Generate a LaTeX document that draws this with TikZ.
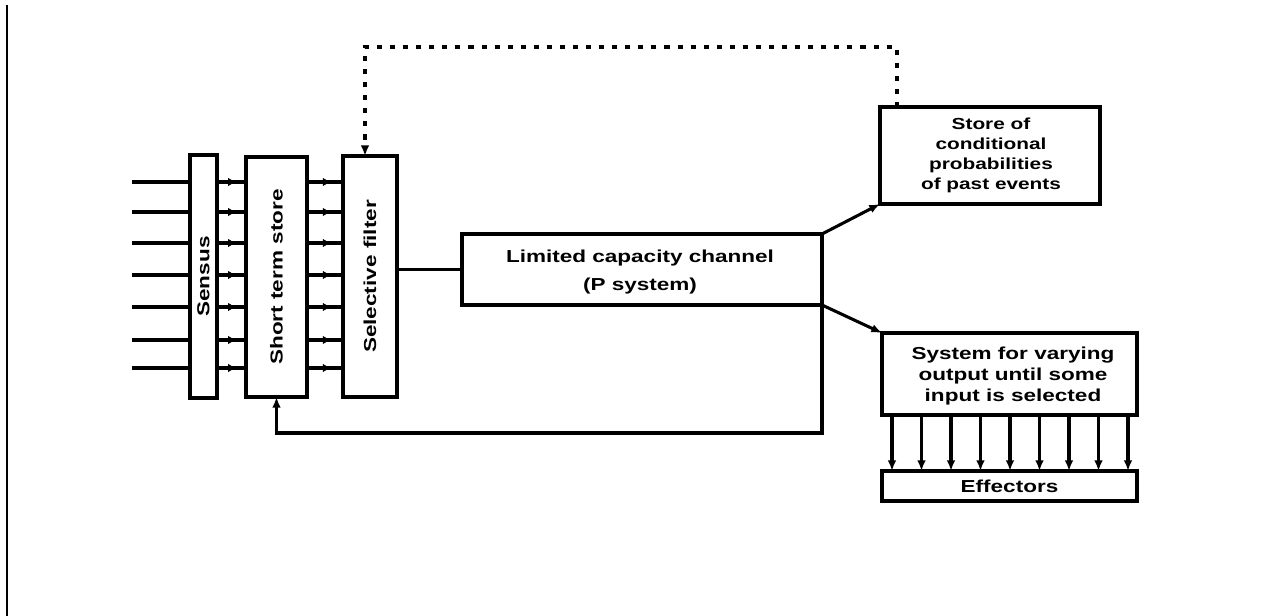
\documentclass[tikz,border=0pt]{standalone}
\usepackage{fontspec}
\setmainfont{Liberation Sans}[FakeStretch=1.3]
\usetikzlibrary{arrows.meta,calc,decorations.markings}
\begin{document}
\begin{tikzpicture}[x=0.75pt,y=-0.75pt,
  box/.style={draw,line width=2.6pt,inner sep=0pt,outer sep=0pt,rectangle},
  txt/.style={font=\bfseries\fontsize{13}{15}\selectfont,align=center,inner sep=0pt},
  conn/.style={line width=2.3pt},
  tip/.style={-{Latex[length=8pt,width=6.5pt]}},
  dotline/.style={line width=2.8pt,dash pattern=on 3.8pt off 6pt},
  midarrow/.style={postaction={decorate},decoration={markings,mark=at position 0.68 with {\arrow{Latex[length=6.5pt,width=6.5pt]}}}}]
\useasboundingbox (0,0) rectangle (1268,616);
% left border
\coordinate (bt) at (7,5);
\coordinate (bb) at (7,616);
\draw[line width=1.9pt] (bt) -- (bb);
% boxes
\node[box,minimum width=27*0.75pt,minimum height=243*0.75pt] (sens) at (203.5,276.5) {};
\node[txt,rotate=90] (senst) at (sens.center) {Sensus};
\node[box,minimum width=61*0.75pt,minimum height=240*0.75pt] (sts) at (276.5,277) {};
\node[txt,rotate=90] (stst) at (sts.center) {Short term store};
\node[box,minimum width=54*0.75pt,minimum height=241*0.75pt] (sf) at (370,276.5) {};
\node[txt,rotate=90] (sft) at (sf.center) {Selective filter};
\node[box,minimum width=360*0.75pt,minimum height=71*0.75pt] (lcc) at (642,269.5) {};
\node[txt,font=\bfseries\fontsize{13}{21.5}\selectfont] (lcct) at (640,272) {Limited capacity channel\\(P system)};
\node[box,minimum width=220*0.75pt,minimum height=97*0.75pt] (store) at (990,155.5) {};
\node[txt,font=\bfseries\fontsize{12}{15}\selectfont] (storet) at (991,155) {Store of\\conditional\\probabilities\\of past events};
\node[box,minimum width=255*0.75pt,minimum height=82*0.75pt] (sys) at (1009.5,374) {};
\node[txt,font=\bfseries\fontsize{13}{16}\selectfont] (syst) at (1013,376) {System for varying\\output until some\\input is selected};
\node[box,minimum width=255*0.75pt,minimum height=30*0.75pt] (eff) at (1009.5,486) {};
\node[txt] (efft) at (eff.center) {Effectors};
% inputs and parallel channels
\foreach \yy [count=\i] in {182,212,243,275,307,340,368} {
  \coordinate (in\i) at (132,\yy);
  \draw[conn] (in\i) -- (in\i -| sens.west);
  \draw[conn,midarrow] (in\i -| sens.east) -- (in\i -| sts.west);
  \draw[conn,midarrow] (in\i -| sts.east) -- (in\i -| sf.west);
}
% filter to channel
\draw[conn] (lcc.west -| sf.east) -- (lcc.west);
% channel outputs
\draw[conn,tip] (lcc.north east) -- (store.south west);
\draw[conn,tip] (lcc.south east) -- (sys.north west);
% feedback to short term store
\draw[conn,tip] (lcc.south east) -- ++(0,128) -| (sts.south);
% dotted feedback to selective filter
\draw[dotline,tip] ($(store.north west)+(17,0)$) -- ++(0,-60) -| ($(sf.north)+(-5,0)$);
% system to effectors
\foreach \k in {0,...,8} {
  \draw[conn,tip] ($(sys.south west)+({10+29.5*\k},0)$) -- ($(eff.north west)+({10+29.5*\k},0)$);
}
\end{tikzpicture}
\end{document}
